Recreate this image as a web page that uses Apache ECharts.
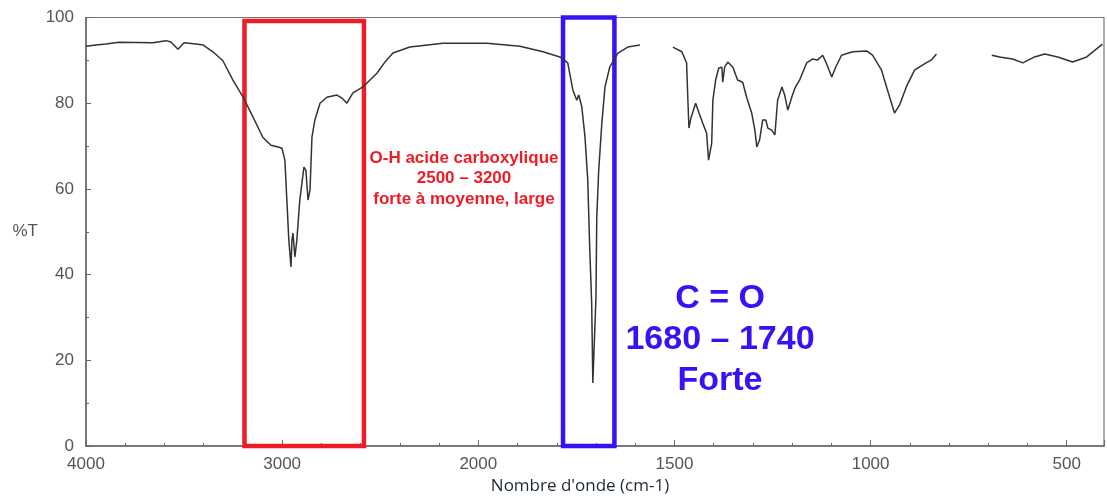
<!DOCTYPE html>
<html>
<head>
<meta charset="utf-8">
<script src="https://cdn.jsdelivr.net/npm/echarts@6/dist/echarts.min.js"></script>
<style>
  html, body { margin: 0; padding: 0; background: #fff; }
  #chart { width: 1107px; height: 500px; }
</style>
</head>
<body>
<div id="chart"></div>
<script>
// nombre d'onde (cm-1) / transmittance (%T), null = trou dans le tracé
var wavenumbers = [
  4000, 3949, 3898, 3832, 3659, 3592, 3567, 3531, 3500, 3439, 3404, 3353, 3302, 3251, 3200,
  3149, 3098, 3057, 3047, 3016, 3001, 2986, 2976, 2966, 2955, 2950, 2945, 2935, 2925, 2910,
  2889, 2879, 2868, 2858, 2848, 2833, 2807, 2772, 2721, 2695, 2670, 2639, 2588, 2517, 2476,
  2435, 2349, 2180, 2068, 1978, 1894, 1835, 1792, 1772, 1759, 1749, 1744, 1736, 1728, 1721,
  1716, 1711, 1708, 1700, 1698, 1693, 1685, 1677, 1665, 1644, 1619, 1588,
  1550,
  1504, 1481, 1469, 1466, 1463, 1458, 1453, 1446, 1438, 1428, 1418, 1413, 1405, 1402, 1395,
  1387, 1379, 1377, 1372, 1364, 1351, 1339, 1326, 1316, 1303, 1295, 1290, 1283, 1275, 1267,
  1262, 1252, 1244, 1237, 1226, 1219, 1211, 1201, 1193, 1181, 1163, 1148, 1135, 1122, 1114,
  1099, 1089, 1074, 1046, 1010, 995, 972, 957, 939, 926, 909, 888, 868, 845, 832,
  760,
  691, 671, 638, 612, 582, 556, 523, 485, 449, 409
];
var transmittance = [
  93.3, 93.6, 93.8, 94.2, 94.1, 94.6, 94.3, 92.6, 94.1, 93.8, 93.6, 92.0, 89.9, 85.4, 81.5,
  76.8, 72.0, 70.2, 69.8, 69.7, 69.5, 66.7, 57.4, 48.1, 41.8, 48.1, 49.7, 44.1, 48.1, 57.4,
  65.1, 64.4, 57.4, 59.7, 72.1, 76.1, 80.0, 81.4, 81.9, 81.2, 80.0, 82.4, 83.8, 87.0, 89.6,
  91.7, 93.1, 94.0, 94.0, 94.0, 93.3, 92.0, 90.8, 89.4, 83.1, 80.7, 81.9, 79.1, 72.1, 62.1,
  46.4, 33.4, 14.7, 34.8, 53.4, 64.4, 75.4, 83.8, 88.4, 91.7, 93.1, 93.6,
  null,
  93.1, 92.0, 89.4, 81.4, 74.2, 76.5, 76.8, 80.0, 77.9, 75.4, 73.0, 66.7, 70.7, 80.7, 85.4,
  88.2, 88.4, 84.9, 88.4, 89.6, 88.4, 85.4, 84.9, 81.4, 77.7, 73.7, 69.8, 71.4, 76.1, 76.1,
  74.2, 73.7, 72.6, 80.7, 83.8, 81.9, 78.4, 81.4, 83.5, 85.4, 89.4, 90.3, 90.1, 91.2, 89.6,
  86.1, 88.4, 91.2, 92.0, 92.2, 91.2, 87.7, 83.1, 77.7, 79.6, 83.8, 87.7, 88.9, 90.1, 91.5,
  null,
  91.2, 90.8, 90.3, 89.4, 90.8, 91.5, 90.8, 89.6, 90.8, 93.8
];
var xTickLabels = ['4000', '3000', '2000', '1500', '1000', '500'];
var ohBand = [3192, 2583];   // cadre rouge
var coBand = [1784, 1653];   // cadre bleu

// échelle cassée à 2000 : 1000 cm-1 par unité au-dessus, 500 en dessous
function toU(wn){
    if(wn >= 2000){
        return (4000 - wn) / 1000;
    }else{
        return 2 + (2000 - wn) / 500;
    }
}

var seriesData = [];
for(var i=0;i<wavenumbers.length;i++){
    seriesData.push([toU(wavenumbers[i]), transmittance[i] === null ? '-' : transmittance[i]]);
}

var chart = echarts.init(document.getElementById('chart'));
chart.setOption({
    animation: false,
    grid: {
        left: 86,
        right: 3,
        top: 17.5,
        bottom: 54,
        show: true,
        borderColor: '#777',
        borderWidth: 1.2
    },
    xAxis: {
        type: 'value',
        min: 0,
        max: toU(405),
        interval: 1,
        name: "Nombre d'onde (cm-1)",
        nameLocation: 'middle',
        nameGap: 31,
        nameTextStyle: {
            fontFamily: 'Open Sans',
            fontSize: 17,
            color: '#1e2838',
            padding: [0, 30, 0, 0]
        },
        axisLine: { lineStyle: { color: '#666', width: 1.5 } },
        axisTick: { inside: true, length: 6, lineStyle: { color: '#666' } },
        minorTick: { show: true, splitNumber: 5, length: 3, lineStyle: { color: '#666' } },
        splitLine: { show: false },
        axisLabel: {
            margin: 10,
            color: '#555',
            fontFamily: 'Liberation Sans',
            fontSize: 17,
            showMaxLabel: false,
            formatter: function(value){
                var k = Math.round(value);
                if(Math.abs(value - k) < 1e-6 && xTickLabels[k] !== undefined){
                    return xTickLabels[k];
                }
                return '';
            }
        }
    },
    yAxis: {
        type: 'value',
        min: 0,
        max: 100,
        interval: 20,
        name: '%T',
        nameLocation: 'middle',
        nameRotate: 0,
        nameGap: 48,
        nameTextStyle: {
            fontFamily: 'Liberation Sans',
            fontSize: 17,
            color: '#555'
        },
        axisLine: { show: true, lineStyle: { color: '#666', width: 1.5 } },
        axisTick: { show: true, inside: true, length: 5, lineStyle: { color: '#666' } },
        minorTick: { show: true, splitNumber: 2, length: 3, lineStyle: { color: '#666' } },
        splitLine: { show: false },
        axisLabel: {
            margin: 12,
            color: '#555',
            fontFamily: 'Liberation Sans',
            fontSize: 17
        }
    },
    series: [
        {
            type: 'line',
            data: seriesData,
            showSymbol: false,
            connectNulls: false,
            clip: false,
            lineStyle: { color: '#333', width: 1.5 },
            markArea: {
                silent: true,
                data: [
                    [
                        { coord: [toU(ohBand[0]), 99.2], itemStyle: { color: 'rgba(0,0,0,0)', borderColor: '#ee1c25', borderWidth: 4.5 } },
                        { coord: [toU(ohBand[1]), -0.9] }
                    ],
                    [
                        { coord: [toU(coBand[0]), 100], itemStyle: { color: 'rgba(0,0,0,0)', borderColor: '#3a10f5', borderWidth: 4.5 } },
                        { coord: [toU(coBand[1]), -1.9] }
                    ]
                ]
            }
        }
    ],
    graphic: [
        {
            type: 'text',
            x: 464,
            y: 148,
            style: {
                text: 'O-H acide carboxylique\n2500 – 3200\nforte à moyenne, large',
                align: 'center',
                verticalAlign: 'top',
                fill: '#ee1c25',
                font: 'bold 17px "Liberation Sans"',
                lineHeight: 20.5
            }
        },
        {
            type: 'text',
            x: 720,
            y: 278,
            style: {
                text: 'C = O\n1680 – 1740\nForte',
                align: 'center',
                verticalAlign: 'top',
                fill: '#3a10f5',
                font: 'bold 34px "Liberation Sans"',
                lineHeight: 41
            }
        }
    ]
});
</script>
</body>
</html>
